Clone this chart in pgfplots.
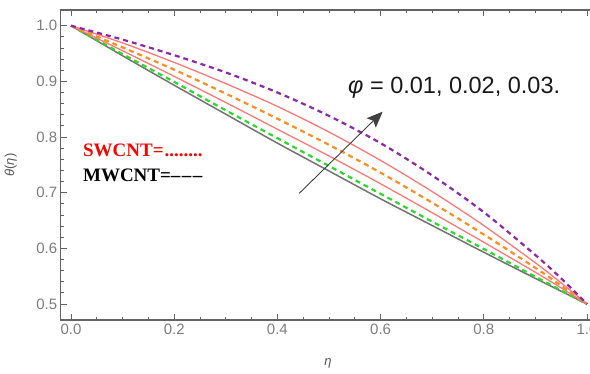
\documentclass[border=0pt]{standalone}
\usepackage{fontspec}
\setmainfont{Liberation Sans}
\newfontfamily\seriffont{Liberation Serif}
\usepackage{pgfplots}
\pgfplotsset{compat=1.18}
\usetikzlibrary{arrows.meta}
\definecolor{cpurple}{RGB}{140,40,170}
\definecolor{cpink}{RGB}{255,120,120}
\definecolor{corange}{RGB}{255,140,30}
\definecolor{cgreen}{RGB}{40,220,40}
\definecolor{cgray}{RGB}{115,115,115}
\definecolor{framec}{RGB}{100,100,100}
\definecolor{tickc}{RGB}{125,125,125}

\pgfplotstableread{
eta theta
0    1.000
0.1  0.975
0.2  0.947
0.3  0.916
0.4  0.880
0.5  0.838
0.6  0.789
0.7  0.731
0.8  0.665
0.9  0.588
0.95 0.546
1.0  0.500
}\purpledata
\pgfplotstableread{
eta theta
0    1.000
0.1  0.969
0.2  0.934
0.3  0.896
0.4  0.855
0.5  0.809
0.6  0.758
0.7  0.702
0.8  0.641
0.9  0.574
0.95 0.538
1.0  0.500
}\pinkupper
\pgfplotstableread{
eta theta
0    1.000
0.1  0.961
0.2  0.921
0.3  0.878
0.4  0.833
0.5  0.786
0.6  0.736
0.7  0.682
0.8  0.625
0.9  0.565
0.95 0.533
1.0  0.500
}\orangedata
\pgfplotstableread{
eta theta
0    1.000
0.1  0.955
0.2  0.909
0.3  0.862
0.4  0.814
0.5  0.766
0.6  0.716
0.7  0.664
0.8  0.611
0.9  0.557
0.95 0.529
1.0  0.500
}\pinklower
\pgfplotstableread{
eta theta
0    1.000
0.1  0.949
0.2  0.899
0.3  0.848
0.4  0.798
0.5  0.748
0.6  0.698
0.7  0.648
0.8  0.599
0.9  0.549
1.0  0.500
}\greendata
\pgfplotstableread{
eta theta
0    1.000
0.1  0.946
0.2  0.893
0.3  0.841
0.4  0.789
0.5  0.739
0.6  0.689
0.7  0.641
0.8  0.593
0.9  0.546
1.0  0.500
}\graydata

\begin{document}
\begin{tikzpicture}[x=1pt,y=1pt]
\useasboundingbox (0,0) rectangle (590,373);
\clip (0,0) rectangle (590,373);
\begin{axis}[
  at={(60.7pt,53pt)}, anchor=south west,
  scale only axis, width=536.6pt, height=310pt,
  xmin=-0.02, xmax=1.02, ymin=0.4713, ymax=1.0282,
  xtick={0,0.2,0.4,0.6,0.8,1.0},
  ytick={0.5,0.6,0.7,0.8,0.9,1.0},
  minor x tick num=3, minor y tick num=4,
  major tick length=6pt, minor tick length=3pt,
  every tick/.style={framec, line width=0.8pt},
  axis line style={framec, line width=1.2pt},
  tick label style={font=\fontsize{15}{15}\selectfont, text=tickc},
  /pgf/number format/assume math mode=true,
  /pgf/number format/.cd, fixed, fixed zerofill, precision=1,
  /pgfplots/.cd,
  xlabel={\textit{η}},
  ylabel={\textit{θ}(\textit{η})},
  label style={font=\fontsize{13}{13}\selectfont, text=tickc!70!black},
  xlabel style={at={(axis description cs:0.498,-0.139)}, anchor=center},
  ylabel style={at={(axis description cs:-0.093,0.5)}, anchor=center, rotate=0},
]
\addplot[cgray, line width=1.5pt, smooth] table[x=eta,y=theta] {\graydata};
\addplot[cgreen, line width=2.2pt, smooth, dash pattern=on 5pt off 4pt] table[x=eta,y=theta] {\greendata};
\addplot[cpink, line width=1.3pt, smooth] table[x=eta,y=theta] {\pinklower};
\addplot[corange, line width=2.2pt, smooth, dash pattern=on 5pt off 4pt] table[x=eta,y=theta] {\orangedata};
\addplot[cpink, line width=1.3pt, smooth] table[x=eta,y=theta] {\pinkupper};
\addplot[cpurple, line width=2.2pt, smooth, dash pattern=on 5pt off 4pt] table[x=eta,y=theta] {\purpledata};

\draw[black!75, line width=0.9pt, -{Stealth[length=16pt,width=13pt,inset=3pt]}]
  (axis cs:0.4424,0.6989) -- (axis cs:0.604,0.8455);
\node[anchor=west, inner sep=0, font=\fontsize{23.5}{23.5}\selectfont, text=black!90]
  at (axis cs:0.5368,0.888) {\textit{φ} = 0.01, 0.02, 0.03.};
\node[anchor=base west, inner sep=0, font=\seriffont\bfseries\fontsize{19}{19}\selectfont, text=red]
  at (axis cs:0.0230,0.7646) {SWCNT=\kern1pt........};
\node[anchor=base west, inner sep=0, font=\seriffont\bfseries\fontsize{19}{19}\selectfont, text=black]
  at (axis cs:0.0230,0.7197) {MWCNT=\textendash\kern1.5pt\textendash\kern1.5pt\textendash};
\end{axis}
\end{tikzpicture}
\end{document}
